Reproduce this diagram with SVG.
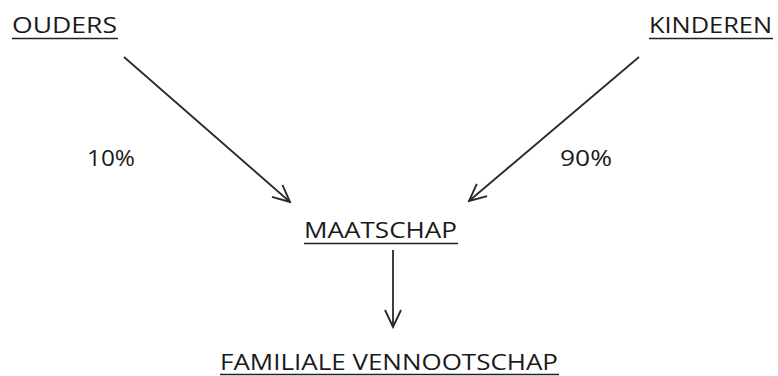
<svg xmlns="http://www.w3.org/2000/svg" width="778" height="376" viewBox="0 0 778 376">
<defs>
<style>
text{font-family:"Open Sans","Noto Sans","DejaVu Sans",sans-serif;font-size:22px;fill:#1a1a1a}
.ul{stroke:#222;stroke-width:1.6}
.c{stroke:#2a2a2a;stroke-width:1.8;fill:none}
</style>
<marker id="ah" viewBox="0 0 22 22" refX="20" refY="11" markerWidth="22" markerHeight="22" markerUnits="userSpaceOnUse" orient="auto">
<path d="M3 3 L20 11 L3 19" fill="none" stroke="#2a2a2a" stroke-width="1.9"/>
</marker>
</defs>
<rect width="778" height="376" fill="#fff"/>
<g id="ouders"><text x="12" y="33" textLength="105" lengthAdjust="spacingAndGlyphs">OUDERS</text><line class="ul" x1="12" y1="38.5" x2="118" y2="38.5"/></g>
<g id="kinderen"><text x="649" y="33" textLength="123" lengthAdjust="spacingAndGlyphs">KINDEREN</text><line class="ul" x1="649" y1="38.5" x2="773" y2="38.5"/></g>
<g id="maatschap"><text x="304" y="238" textLength="153" lengthAdjust="spacingAndGlyphs">MAATSCHAP</text><line class="ul" x1="304" y1="243.5" x2="458" y2="243.5"/></g>
<g id="familiale"><text x="220" y="370" textLength="338" lengthAdjust="spacingAndGlyphs">FAMILIALE VENNOOTSCHAP</text><line class="ul" x1="220" y1="374.5" x2="559" y2="374.5"/></g>
<g id="connectors">
<line class="c" x1="124" y1="57" x2="290" y2="202" marker-end="url(#ah)"/>
<line class="c" x1="639" y1="57" x2="469" y2="201" marker-end="url(#ah)"/>
<line class="c" x1="393" y1="250" x2="393" y2="327" marker-end="url(#ah)"/>
</g>
<g id="labels">
<text x="87" y="166" textLength="48" lengthAdjust="spacingAndGlyphs">10%</text>
<text x="560" y="166" textLength="52" lengthAdjust="spacingAndGlyphs">90%</text>
</g>
</svg>
